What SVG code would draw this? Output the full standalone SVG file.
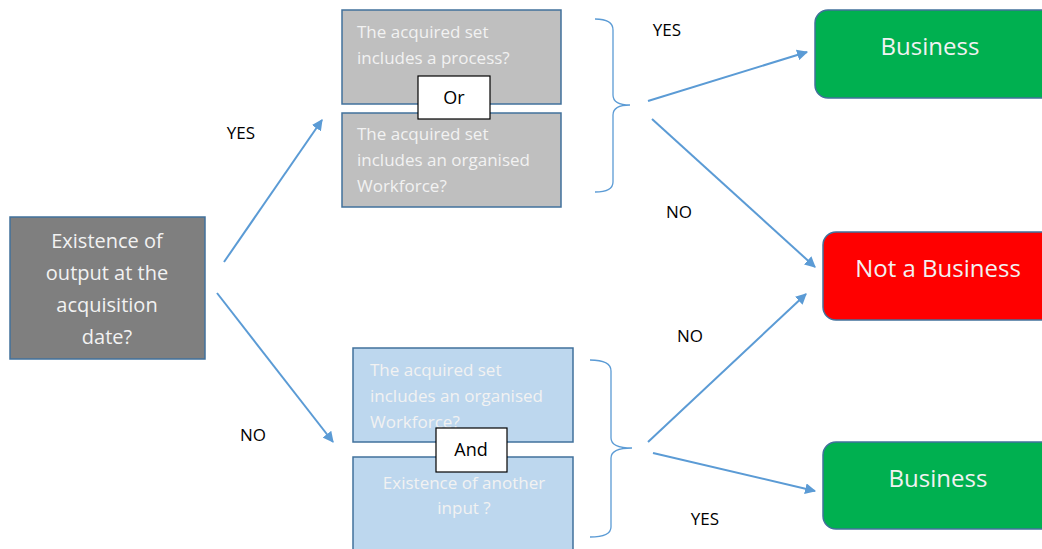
<svg xmlns="http://www.w3.org/2000/svg" width="1042" height="549" viewBox="0 0 1042 549">
<style>
text{font-family:"Open Sans","Noto Sans","Liberation Sans",sans-serif}
.box{stroke:#41719C;stroke-width:1.5}
.wt{fill:#F2F2F2;font-size:17px}
.lbl{fill:#000;font-size:17px}
.conn{stroke:#5B9BD5;stroke-width:2;fill:none}
.br{stroke:#5B9BD5;stroke-width:1.3;fill:none}
.op{fill:#fff;stroke:#000;stroke-width:1.2}
.big{fill:#F2F2F2;font-size:24px}
</style>
<defs>
<marker id="ah" viewBox="0 0 10 10" refX="9" refY="5" markerWidth="5.5" markerHeight="5.5" orient="auto" markerUnits="strokeWidth">
<path d="M0,0 L10,5 L0,10 z" fill="#5B9BD5"/>
</marker>
</defs>
<rect width="1042" height="549" fill="#fff"/>

<g id="start">
<rect class="box" x="10" y="217" width="195" height="142" fill="#7F7F7F"/>
<text x="107" y="248" text-anchor="middle" fill="#F2F2F2" font-size="20">Existence of</text>
<text x="107" y="280" text-anchor="middle" fill="#F2F2F2" font-size="20">output at the</text>
<text x="107" y="312" text-anchor="middle" fill="#F2F2F2" font-size="20">acquisition</text>
<text x="107" y="344" text-anchor="middle" fill="#F2F2F2" font-size="20">date?</text>
</g>

<g id="process">
<rect class="box" x="342" y="10" width="219" height="94" fill="#BFBFBF"/>
<text class="wt" x="357" y="38">The acquired set</text>
<text class="wt" x="357" y="64">includes a process?</text>
</g>
<g id="workforce1">
<rect class="box" x="342" y="113" width="219" height="94" fill="#BFBFBF"/>
<text class="wt" x="357" y="140">The acquired set</text>
<text class="wt" x="357" y="166">includes an organised</text>
<text class="wt" x="357" y="192">Workforce?</text>
</g>
<g id="or">
<rect class="op" x="418" y="76" width="72" height="43"/>
<text x="454" y="104" text-anchor="middle" font-size="18" fill="#000">Or</text>
</g>

<g id="workforce2">
<rect class="box" x="353" y="348" width="220" height="94" fill="#BDD7EE"/>
<text class="wt" x="370" y="376">The acquired set</text>
<text class="wt" x="370" y="402">includes an organised</text>
<text class="wt" x="370" y="428">Workforce?</text>
</g>
<g id="input">
<rect class="box" x="353" y="457" width="220" height="100" fill="#BDD7EE"/>
<text class="wt" x="464" y="489" text-anchor="middle">Existence of another</text>
<text class="wt" x="464" y="514" text-anchor="middle">input ?</text>
</g>
<g id="and">
<rect class="op" x="436" y="428" width="71" height="44"/>
<text x="471" y="456" text-anchor="middle" font-size="18" fill="#000">And</text>
</g>

<g id="business1">
<rect class="box" x="815" y="10" width="240" height="88" rx="13" fill="#00B050"/>
<text class="big" x="930" y="55" text-anchor="middle">Business</text>
</g>
<g id="notbusiness">
<rect class="box" x="823" y="232" width="240" height="88" rx="13" fill="#FF0000"/>
<text class="big" x="938" y="277" text-anchor="middle">Not a Business</text>
</g>
<g id="business2">
<rect class="box" x="823" y="442" width="240" height="87" rx="13" fill="#00B050"/>
<text class="big" x="938" y="487" text-anchor="middle">Business</text>
</g>

<g id="connectors">
<path class="br" d="M595,19 Q613,19 613,30 L613,95 Q613,105 630,105 Q613,105 613,115 L613,182 Q613,192 595,192"/>
<path class="br" d="M590,360 Q611,360 611,371 L611,438 Q611,448 632,448 Q611,448 611,458 L611,527 Q611,537 590,537"/>
<line class="conn" x1="224" y1="262" x2="322" y2="120" marker-end="url(#ah)"/>
<line class="conn" x1="217" y1="293" x2="333" y2="442" marker-end="url(#ah)"/>
<line class="conn" x1="648" y1="101" x2="807" y2="52" marker-end="url(#ah)"/>
<line class="conn" x1="652" y1="119" x2="815" y2="267" marker-end="url(#ah)"/>
<line class="conn" x1="648" y1="442" x2="806" y2="294" marker-end="url(#ah)"/>
<line class="conn" x1="653" y1="453" x2="815" y2="491" marker-end="url(#ah)"/>
<text class="lbl" x="241" y="139" text-anchor="middle">YES</text>
<text class="lbl" x="253" y="441" text-anchor="middle">NO</text>
<text class="lbl" x="667" y="36" text-anchor="middle">YES</text>
<text class="lbl" x="679" y="218" text-anchor="middle">NO</text>
<text class="lbl" x="690" y="342" text-anchor="middle">NO</text>
<text class="lbl" x="705" y="525" text-anchor="middle">YES</text>
</g>
</svg>
